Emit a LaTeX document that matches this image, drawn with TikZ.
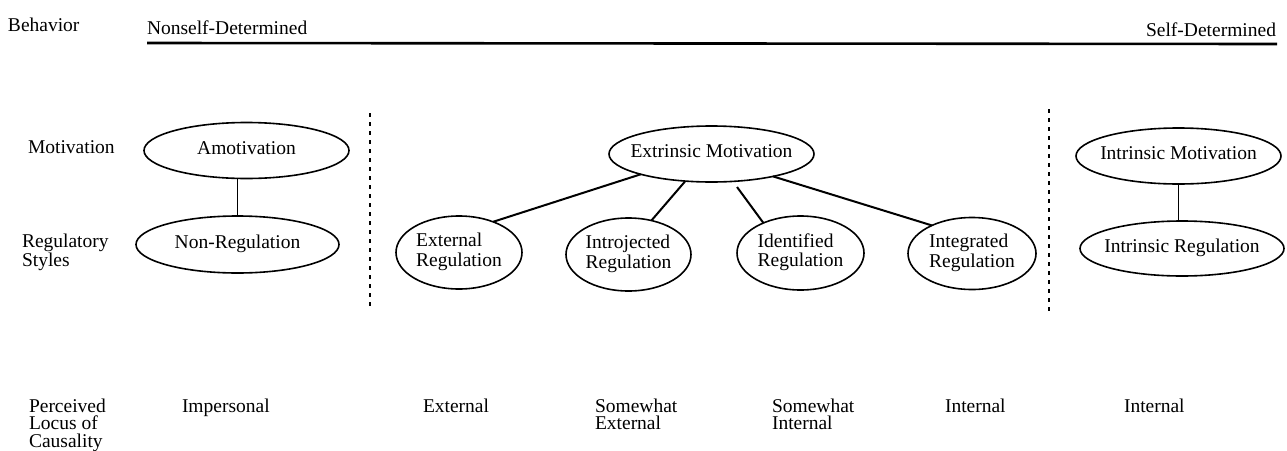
\documentclass[tikz,border=0pt]{standalone}
\usepackage{fontspec}
\setmainfont{Liberation Serif}
\usetikzlibrary{shapes.geometric}
\newcommand{\ctext}[1]{\makebox[0pt]{\begin{tabular}{@{}l@{}}#1\end{tabular}}}
\newcommand{\ltext}[1]{\begin{tabular}[t]{@{}l@{}}#1\end{tabular}}
\begin{document}
\begin{tikzpicture}[x=1pt,y=-1pt,
  every node/.style={font=\fontsize{19.5}{18.5}\selectfont, inner sep=0pt, outer sep=0pt},
  ell/.style={draw, ellipse, line width=1.6pt, inner sep=0pt},
  lbl/.style={anchor=base west},
  link/.style={line width=2pt},
  vlink/.style={line width=1.6pt},
  sepline/.style={line width=1.8pt, dash pattern=on 3.5pt off 5.5pt},
  axisline/.style={line width=2.6pt}]
\useasboundingbox (0,0) rectangle (1287,450);

% header
\node[lbl] (beh) at (8,31) {Behavior};
\node[lbl] (nsd) at (147,34) {Nonself-Determined};
\node[anchor=base east] (sd) at (1276,36) {Self-Determined};
\coordinate (axL) at (147,43);
\coordinate (axR) at (1277,44);
\draw[axisline] (axL) -- (axR);

% row labels
\node[lbl] (mot) at (28,153) {Motivation};
\node[lbl] (reg) at (22,247) {\ltext{Regulatory\\Styles}};
\node[lbl] (plc) at (29,412) {\ltext{Perceived\\[-1.5pt]Locus of\\[-1.5pt]Causality}};

% separators
\coordinate (d1a) at (370,113);
\coordinate (d1b) at (370,308);
\coordinate (d2a) at (1049,109);
\coordinate (d2b) at (1049,313);
\draw[sepline] (d1a) -- (d1b);
\draw[sepline] (d2a) -- (d2b);

% ellipses
\node[ell, minimum width=205pt, minimum height=56pt] (am) at (246.5,150.5) {\ctext{Amotivation}};
\node[ell, minimum width=203pt, minimum height=57pt] (nr) at (237.5,244.5) {\ctext{Non-Regulation}};
\node[ell, minimum width=205pt, minimum height=56pt] (em) at (711.5,154) {\ctext{Extrinsic Motivation}};
\node[ell, minimum width=126pt, minimum height=73pt] (er) at (459,252.5) {\ctext{External\\Regulation}};
\node[ell, minimum width=125pt, minimum height=73pt] (ij) at (628.5,254.5) {\ctext{Introjected\\Regulation}};
\node[ell, minimum width=127pt, minimum height=74pt] (id) at (800.5,253) {\ctext{Identified\\Regulation}};
\node[ell, minimum width=128pt, minimum height=72pt] (ig) at (972,253.5) {\ctext{Integrated\\Regulation}};
\node[ell, minimum width=205pt, minimum height=56pt] (im) at (1178.5,156) {\ctext{Intrinsic Motivation}};
\node[ell, minimum width=204pt, minimum height=55pt] (ir) at (1182,248.5) {\ctext{Intrinsic Regulation}};

% connectors
\draw[vlink] (am.south -| nr.north) -- (nr.north);
\draw[link] (em.196) -- (er.42);
\draw[link] (em.226) -- (ij.56);
\draw[link, shorten <=7pt] (em.308) -- (id.141);
\draw[link] (em.340) -- (ig.145);
\draw[vlink] (im.south) -- (im.south |- ir.north);

% locus row
\node[lbl] (imp) at (182,412) {Impersonal};
\node[lbl] (ext) at (423,412) {External};
\node[lbl] (swe) at (595,412) {\ltext{Somewhat\\[-1.5pt]External}};
\node[lbl] (swi) at (772,412) {\ltext{Somewhat\\[-1.5pt]Internal}};
\node[lbl] (int1) at (945,412) {Internal};
\node[lbl] (int2) at (1124,412) {Internal};
\end{tikzpicture}
\end{document}
